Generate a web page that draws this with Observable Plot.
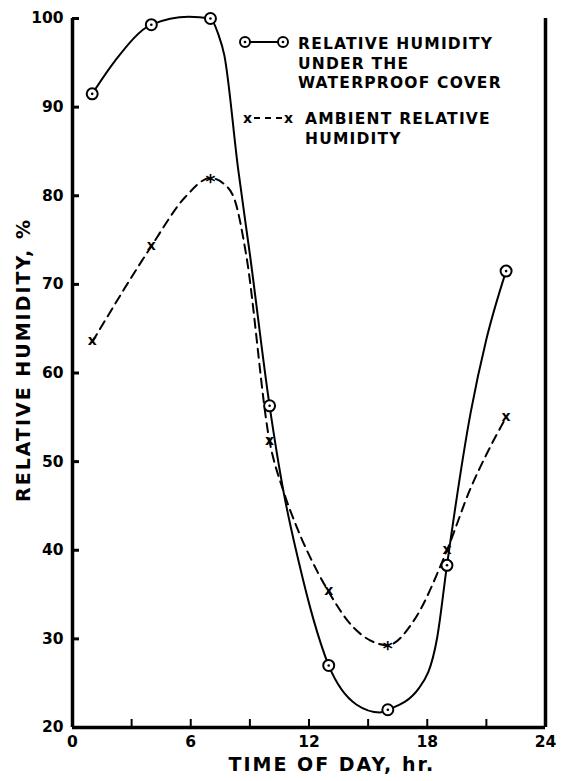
<!DOCTYPE html>
<html>
<head>
<meta charset="utf-8">
<script src="https://cdn.jsdelivr.net/npm/d3@7"></script>
<script src="https://cdn.jsdelivr.net/npm/@observablehq/plot@0.6"></script>
<style>
  html, body { margin: 0; padding: 0; background: #fff; }
  #chart { width: 561px; height: 781px; }
  svg text { font-family: "DejaVu Sans", sans-serif; font-weight: bold; }
</style>
</head>
<body>
<div id="chart"></div>
<script>
// ---- measured points (markers) ----
const hours = [1, 4, 7, 10, 13, 16, 19, 22];
const coverRH = [91.5, 99.3, 100, 56.3, 27, 22, 38.3, 71.5];
const ambientRH = [63.5, 74.3, 82, 52.3, 35.3, 29.3, 40, 55];
const ambientGlyphs = ["x", "x", "*", "x", "x", "*", "x", "x"];
// ---- drawn curves ----
const coverCurveHour = [1, 2.15, 4, 5.9, 7, 7.4, 7.7, 8.4, 9, 10, 10.7, 11.5, 12.2, 13, 14.4, 15.6, 16, 17.6, 18.5, 19, 20.2, 21, 22];
const coverCurveRH   = [91.5, 95.2, 99.3, 100.2, 100, 98.2, 95.9, 83.1, 73.4, 56.3, 46.7, 38.5, 32.4, 27, 22.6, 21.7, 22, 24.5, 30.1, 38.3, 55.5, 63.8, 71.5];
const ambientCurveHour = [1, 4, 5.7, 7, 7.7, 8.25, 8.8, 10, 10.7, 11.4, 12.4, 13, 14.25, 16, 17.3, 19, 20.2, 21, 22];
const ambientCurveRH   = [63.5, 74.3, 79.8, 82, 81.3, 79.4, 73.5, 52.3, 46.7, 42.5, 37.7, 35.3, 31.3, 29.3, 32, 40, 47, 50.8, 55];
// ---- axes ----
const xMinorTicks = [3, 6, 9, 12, 15, 18, 21];
const xTickLabels = [0, 6, 12, 18, 24];
const yTicks = [20, 30, 40, 50, 60, 70, 80, 90, 100];
const xDomain = [0, 24];
const yDomain = [20, 100];
const xTitle = "TIME OF DAY, hr.";
const yTitle = "RELATIVE HUMIDITY, %";
const legendCover = ["RELATIVE HUMIDITY", "UNDER THE", "WATERPROOF COVER"];
const legendAmbient = ["AMBIENT RELATIVE", "HUMIDITY"];

const cover = hours.map((h, i) => ({hour: h, rh: coverRH[i]}));
const ambient = hours.map((h, i) => ({hour: h, rh: ambientRH[i], glyph: ambientGlyphs[i]}));
const coverCurve = coverCurveHour.map((h, i) => ({hour: h, rh: coverCurveRH[i]}));
const ambientCurve = ambientCurveHour.map((h, i) => ({hour: h, rh: ambientCurveRH[i]}));

const W = 561, H = 781;
const plot = Plot.plot({
  width: W,
  height: H,
  marginLeft: 72,
  marginRight: 16,
  marginTop: 18,
  marginBottom: 54,
  style: {background: "#fff", color: "#000", fontFamily: "DejaVu Sans", fontWeight: "bold"},
  x: {domain: xDomain},
  y: {domain: yDomain},
  marks: [
    Plot.axisY({ticks: yTicks, tickSize: -7, tickPadding: 16, strokeWidth: 3, fontSize: 15.5, label: null, tickFormat: d => d}),
    Plot.axisX({ticks: xMinorTicks, tickSize: -8, strokeWidth: 2, tickFormat: () => "", label: null}),
    Plot.axisX({ticks: xTickLabels, tickSize: 0, tickPadding: 8, fontSize: 15.5, label: null}),
    Plot.ruleX([xDomain[0]], {stroke: "#000", strokeWidth: 3.5}),
    Plot.ruleX([xDomain[1]], {stroke: "#000", strokeWidth: 3.5}),
    Plot.ruleY([yDomain[0]], {stroke: "#000", strokeWidth: 3.5}),
    Plot.line(ambientCurve, {x: "hour", y: "rh", curve: "monotone-x", stroke: "#000", strokeWidth: 2, strokeDasharray: "9,6"}),
    Plot.line(coverCurve, {x: "hour", y: "rh", curve: "monotone-x", stroke: "#000", strokeWidth: 2}),
    Plot.text(ambient.filter(d => d.glyph === "x"), {x: "hour", y: "rh", text: "glyph", fontSize: 14, fontWeight: "bold", fill: "#000", dy: -1}),
    Plot.text(ambient.filter(d => d.glyph === "*"), {x: "hour", y: "rh", text: "glyph", fontSize: 19, fontWeight: "bold", fill: "#000", dy: 4}),
    Plot.dot(cover, {x: "hour", y: "rh", r: 5.5, fill: "#fff", stroke: "#000", strokeWidth: 2}),
    Plot.dot(cover, {x: "hour", y: "rh", r: 1.3, fill: "#000"}),
    Plot.text([xTitle], {frameAnchor: "bottom-left", dx: 156, dy: 43, fontSize: 19, fontWeight: "bold", fill: "#000", textAnchor: "start", className: "title"}),
    Plot.text([yTitle], {frameAnchor: "left", dx: -49, dy: -13, rotate: -90, fontSize: 19, fontWeight: "bold", fill: "#000", textAnchor: "middle", className: "title"})
  ]
});
document.getElementById("chart").appendChild(plot);
d3.select(plot).selectAll("text").style("letter-spacing", "0px");
d3.select(plot).selectAll(".title text").style("letter-spacing", "2px");

// legend (inside the plot, top right)
const svg = d3.select(plot);
const lg = svg.append("g").attr("fill", "#000").attr("text-anchor", "start")
  .style("font-size", "15.5px").style("letter-spacing", "1.2px");
lg.append("line").attr("x1", 245).attr("x2", 283).attr("y1", 42).attr("y2", 42).attr("stroke", "#000").attr("stroke-width", 2);
[245, 283].forEach(cx => {
  lg.append("circle").attr("cx", cx).attr("cy", 42).attr("r", 5).attr("fill", "#fff").attr("stroke", "#000").attr("stroke-width", 2);
  lg.append("circle").attr("cx", cx).attr("cy", 42).attr("r", 1.3).attr("fill", "#000");
});
legendCover.forEach((t, i) => {
  lg.append("text").attr("x", 298).attr("y", 49 + i * 19.5).text(t);
});
lg.append("line").attr("x1", 254).attr("x2", 283).attr("y1", 118).attr("y2", 118).attr("stroke", "#000").attr("stroke-width", 2).attr("stroke-dasharray", "6,5");
lg.append("text").attr("x", 243).attr("y", 123).style("font-size", "14px").text("x");
lg.append("text").attr("x", 284).attr("y", 123).style("font-size", "14px").text("x");
legendAmbient.forEach((t, i) => {
  lg.append("text").attr("x", 305).attr("y", 124 + i * 19.5).text(t);
});
</script>
</body>
</html>
